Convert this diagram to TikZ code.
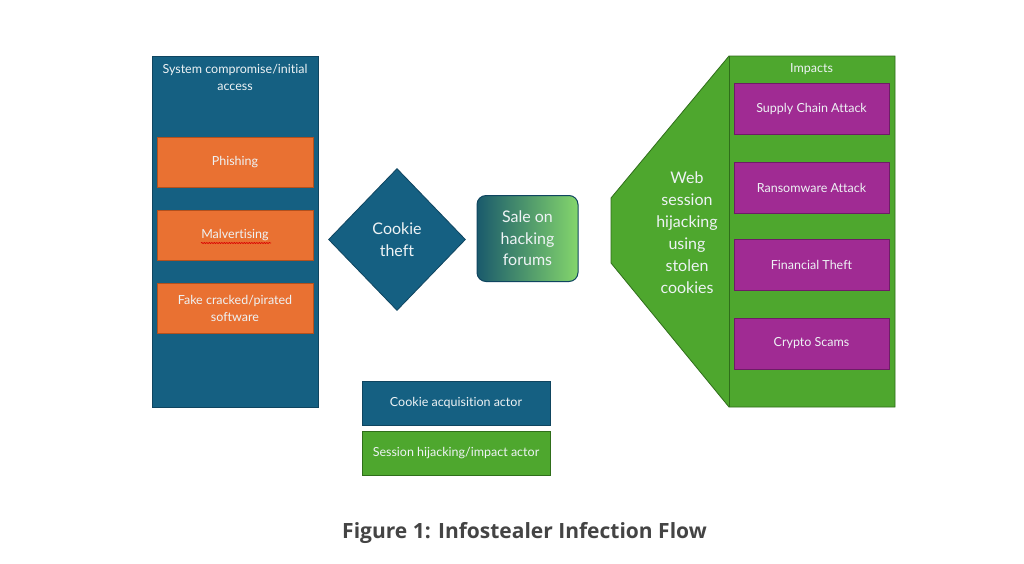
\documentclass[tikz,border=0pt]{standalone}
\usepackage{fontspec}
\setmainfont{Lato}[Ligatures={NoCommon,TeX}]
\newfontfamily\capfont{Open Sans}
\usetikzlibrary{shapes.geometric,decorations.pathmorphing}
\definecolor{cblue}{HTML}{156082}
\definecolor{cblueline}{HTML}{0F4560}
\definecolor{corange}{HTML}{E97132}
\definecolor{corangeline}{HTML}{B3501C}
\definecolor{cgreen}{HTML}{4EA72E}
\definecolor{cgreenline}{HTML}{2F6E1A}
\definecolor{cpurple}{HTML}{A02B93}
\definecolor{cpurpleline}{HTML}{6E1C66}
\definecolor{gdark}{HTML}{1A5A6C}
\definecolor{glight}{HTML}{84D66C}
\definecolor{captext}{HTML}{444444}
\definecolor{wtext}{HTML}{EEF3F5}
\tikzset{
  panelblue/.style={draw=cblueline, fill=cblue, line width=0.8pt, inner sep=0pt},
  orangebox/.style={draw=corangeline, fill=corange, line width=1pt, minimum width=156pt, minimum height=50pt, inner sep=0pt, text=wtext, font=\fontsize{12.5}{17}\selectfont, align=center},
  purplebox/.style={draw=cpurpleline, fill=cpurple, line width=1pt, minimum width=155pt, minimum height=51pt, inner sep=0pt, text=wtext, font=\fontsize{12.5}{17}\selectfont, align=center},
  legendbox/.style={line width=1pt, minimum width=188pt, minimum height=44pt, inner sep=0pt, text=wtext, font=\fontsize{12.5}{17}\selectfont},
  smalltxt/.style={text=wtext, font=\fontsize{12.5}{17}\selectfont, align=center, inner sep=0pt},
  bigtxt/.style={text=wtext, font=\fontsize{16}{21.5}\selectfont, align=center, inner sep=0pt},
}
\begin{document}
\begin{tikzpicture}[x=1pt,y=-1pt]
\useasboundingbox (0,0) rectangle (1024,563);
\fill[white] (0,0) rectangle (1024,563);
% left panel
\node[panelblue, minimum width=166pt, minimum height=351pt] (sys) at (235,231.5) {};
\node[smalltxt] (systitle) at (235,77.5) {System compromise/initial\\access};
\node[orangebox] (phish) at (235,162.5) {Phishing};
\node[orangebox] (malv) at (235,235) {Malvertising};
\node[orangebox] (fake) at (235,308) {Fake cracked/pirated\\software};
\draw[red!85!black, line width=0.6pt, decorate, decoration={snake, amplitude=0.6pt, segment length=2.5pt}] (201,243) -- (271,243);
% diamond
\node[diamond, draw=cblueline, fill=cblue, line width=0.8pt, minimum width=137pt, minimum height=142pt, inner sep=0pt, bigtxt] (cookie) at (397,239.5) {Cookie\\theft};
% sale box
\node[draw=cblueline, line width=1pt, rounded corners=9pt, left color=gdark, right color=glight, minimum width=101pt, minimum height=86pt, inner sep=0pt, bigtxt] (sale) at (527.5,238.5) {Sale on\\hacking\\forums};
% right shape
\coordinate (p1) at (611,198);
\coordinate (p2) at (729,56);
\coordinate (p3) at (895,56);
\coordinate (p4) at (895,407);
\coordinate (p5) at (729,407);
\coordinate (p6) at (611,263);
\draw[fill=cgreen, draw=cgreenline, line width=0.8pt] (p1) -- (p2) -- (p3) -- (p4) -- (p5) -- (p6) -- cycle;
\draw[cgreenline, line width=0.8pt] (p2) -- (p5);
\node[bigtxt, font=\fontsize{16}{22}\selectfont] (web) at (687,233) {Web\\session\\hijacking\\using\\stolen\\cookies};
\node[smalltxt] (impacts) at (811.5,69.5) {Impacts};
\node[purplebox] (supply) at (811.5,108.5) {Supply Chain Attack};
\node[purplebox] (ransom) at (811.5,187.5) {Ransomware Attack};
\node[purplebox] (fin) at (811.5,265) {Financial Theft};
\node[purplebox] (crypto) at (811.5,343.5) {Crypto Scams};
% legend
\node[legendbox, draw=cblueline, fill=cblue] (leg1) at (456,403) {Cookie acquisition actor};
\node[legendbox, draw=cgreenline, fill=cgreen] (leg2) at (456,453) {Session hijacking/impact actor};
% caption
\node[text=captext, font=\capfont\bfseries\fontsize{21}{25}\selectfont, inner sep=0pt] (cap) at (524.5,532.5) {Figure 1: Infostealer Infection Flow};
\end{tikzpicture}
\end{document}
